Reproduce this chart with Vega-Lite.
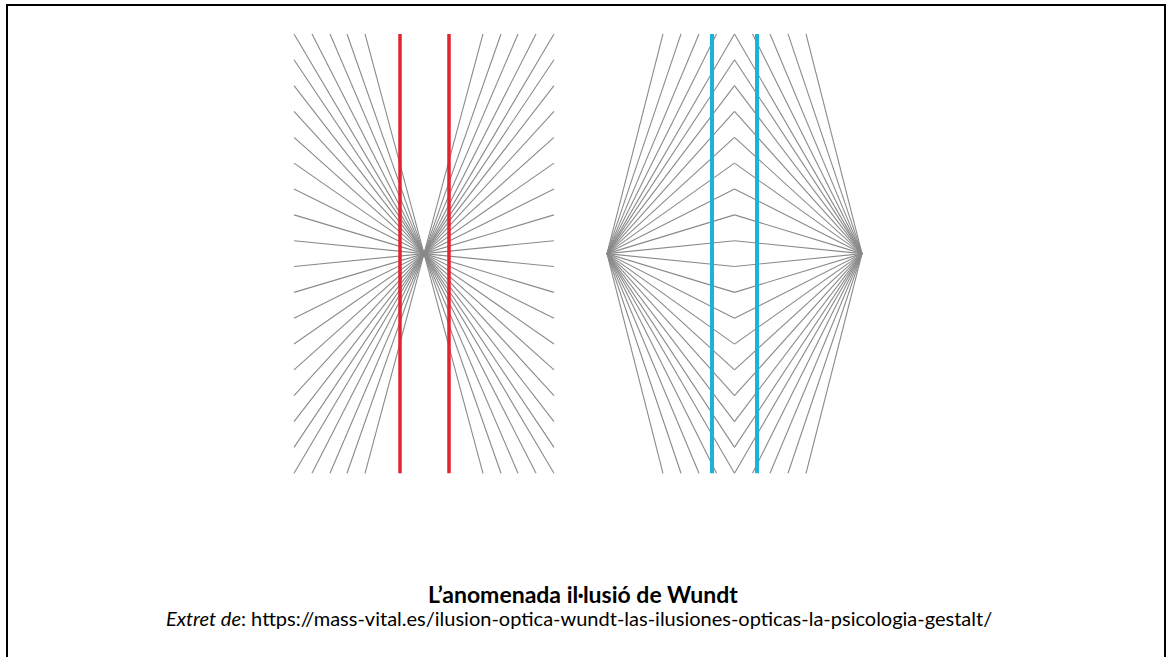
{
  "$schema": "https://vega.github.io/schema/vega-lite/v6.json",
  "width": 1167,
  "height": 658,
  "padding": 0,
  "autosize": {"type": "fit", "contains": "padding"},
  "background": "white",
  "config": {"view": {"stroke": null}},
  "datasets": {
    "segments": [
      {"k": "vora", "x": 7, "y": 4, "x2": 7, "y2": 658},
      {"k": "vora", "x": 6, "y": 5, "x2": 1166, "y2": 5},
      {"k": "vora", "x": 1165, "y": 4, "x2": 1165, "y2": 658},
      {"k": "gris", "x": 294, "y": 34, "x2": 424, "y2": 254},
      {"k": "gris", "x": 294, "y": 59.9, "x2": 424, "y2": 254},
      {"k": "gris", "x": 294, "y": 85.8, "x2": 424, "y2": 254},
      {"k": "gris", "x": 294, "y": 111.6, "x2": 424, "y2": 254},
      {"k": "gris", "x": 294, "y": 137.5, "x2": 424, "y2": 254},
      {"k": "gris", "x": 294, "y": 163.4, "x2": 424, "y2": 254},
      {"k": "gris", "x": 294, "y": 189.3, "x2": 424, "y2": 254},
      {"k": "gris", "x": 294, "y": 215.2, "x2": 424, "y2": 254},
      {"k": "gris", "x": 294, "y": 241.1, "x2": 424, "y2": 254},
      {"k": "gris", "x": 294, "y": 266.9, "x2": 424, "y2": 254},
      {"k": "gris", "x": 294, "y": 292.8, "x2": 424, "y2": 254},
      {"k": "gris", "x": 294, "y": 318.7, "x2": 424, "y2": 254},
      {"k": "gris", "x": 294, "y": 344.6, "x2": 424, "y2": 254},
      {"k": "gris", "x": 294, "y": 370.4, "x2": 424, "y2": 254},
      {"k": "gris", "x": 294, "y": 396.3, "x2": 424, "y2": 254},
      {"k": "gris", "x": 294, "y": 422.2, "x2": 424, "y2": 254},
      {"k": "gris", "x": 294, "y": 448.1, "x2": 424, "y2": 254},
      {"k": "gris", "x": 294, "y": 474, "x2": 424, "y2": 254},
      {"k": "gris", "x": 312, "y": 34, "x2": 424, "y2": 254},
      {"k": "gris", "x": 330, "y": 34, "x2": 424, "y2": 254},
      {"k": "gris", "x": 347, "y": 34, "x2": 424, "y2": 254},
      {"k": "gris", "x": 365, "y": 34, "x2": 424, "y2": 254},
      {"k": "gris", "x": 312, "y": 474, "x2": 424, "y2": 254},
      {"k": "gris", "x": 330, "y": 474, "x2": 424, "y2": 254},
      {"k": "gris", "x": 347, "y": 474, "x2": 424, "y2": 254},
      {"k": "gris", "x": 365, "y": 474, "x2": 424, "y2": 254},
      {"k": "gris", "x": 554, "y": 34, "x2": 424, "y2": 254},
      {"k": "gris", "x": 554, "y": 59.9, "x2": 424, "y2": 254},
      {"k": "gris", "x": 554, "y": 85.8, "x2": 424, "y2": 254},
      {"k": "gris", "x": 554, "y": 111.6, "x2": 424, "y2": 254},
      {"k": "gris", "x": 554, "y": 137.5, "x2": 424, "y2": 254},
      {"k": "gris", "x": 554, "y": 163.4, "x2": 424, "y2": 254},
      {"k": "gris", "x": 554, "y": 189.3, "x2": 424, "y2": 254},
      {"k": "gris", "x": 554, "y": 215.2, "x2": 424, "y2": 254},
      {"k": "gris", "x": 554, "y": 241.1, "x2": 424, "y2": 254},
      {"k": "gris", "x": 554, "y": 266.9, "x2": 424, "y2": 254},
      {"k": "gris", "x": 554, "y": 292.8, "x2": 424, "y2": 254},
      {"k": "gris", "x": 554, "y": 318.7, "x2": 424, "y2": 254},
      {"k": "gris", "x": 554, "y": 344.6, "x2": 424, "y2": 254},
      {"k": "gris", "x": 554, "y": 370.4, "x2": 424, "y2": 254},
      {"k": "gris", "x": 554, "y": 396.3, "x2": 424, "y2": 254},
      {"k": "gris", "x": 554, "y": 422.2, "x2": 424, "y2": 254},
      {"k": "gris", "x": 554, "y": 448.1, "x2": 424, "y2": 254},
      {"k": "gris", "x": 554, "y": 474, "x2": 424, "y2": 254},
      {"k": "gris", "x": 483, "y": 34, "x2": 424, "y2": 254},
      {"k": "gris", "x": 501, "y": 34, "x2": 424, "y2": 254},
      {"k": "gris", "x": 518, "y": 34, "x2": 424, "y2": 254},
      {"k": "gris", "x": 536, "y": 34, "x2": 424, "y2": 254},
      {"k": "gris", "x": 483, "y": 474, "x2": 424, "y2": 254},
      {"k": "gris", "x": 501, "y": 474, "x2": 424, "y2": 254},
      {"k": "gris", "x": 518, "y": 474, "x2": 424, "y2": 254},
      {"k": "gris", "x": 536, "y": 474, "x2": 424, "y2": 254},
      {"k": "gris", "x": 607, "y": 254, "x2": 734.5, "y2": 34},
      {"k": "gris", "x": 607, "y": 254, "x2": 734.5, "y2": 59.9},
      {"k": "gris", "x": 607, "y": 254, "x2": 734.5, "y2": 85.8},
      {"k": "gris", "x": 607, "y": 254, "x2": 734.5, "y2": 111.6},
      {"k": "gris", "x": 607, "y": 254, "x2": 734.5, "y2": 137.5},
      {"k": "gris", "x": 607, "y": 254, "x2": 734.5, "y2": 163.4},
      {"k": "gris", "x": 607, "y": 254, "x2": 734.5, "y2": 189.3},
      {"k": "gris", "x": 607, "y": 254, "x2": 734.5, "y2": 215.2},
      {"k": "gris", "x": 607, "y": 254, "x2": 734.5, "y2": 241.1},
      {"k": "gris", "x": 607, "y": 254, "x2": 734.5, "y2": 266.9},
      {"k": "gris", "x": 607, "y": 254, "x2": 734.5, "y2": 292.8},
      {"k": "gris", "x": 607, "y": 254, "x2": 734.5, "y2": 318.7},
      {"k": "gris", "x": 607, "y": 254, "x2": 734.5, "y2": 344.6},
      {"k": "gris", "x": 607, "y": 254, "x2": 734.5, "y2": 370.4},
      {"k": "gris", "x": 607, "y": 254, "x2": 734.5, "y2": 396.3},
      {"k": "gris", "x": 607, "y": 254, "x2": 734.5, "y2": 422.2},
      {"k": "gris", "x": 607, "y": 254, "x2": 734.5, "y2": 448.1},
      {"k": "gris", "x": 607, "y": 254, "x2": 734.5, "y2": 474},
      {"k": "gris", "x": 607, "y": 254, "x2": 663, "y2": 34},
      {"k": "gris", "x": 607, "y": 254, "x2": 681, "y2": 34},
      {"k": "gris", "x": 607, "y": 254, "x2": 699, "y2": 34},
      {"k": "gris", "x": 607, "y": 254, "x2": 716.5, "y2": 34},
      {"k": "gris", "x": 607, "y": 254, "x2": 663, "y2": 474},
      {"k": "gris", "x": 607, "y": 254, "x2": 681, "y2": 474},
      {"k": "gris", "x": 607, "y": 254, "x2": 699, "y2": 474},
      {"k": "gris", "x": 607, "y": 254, "x2": 716.5, "y2": 474},
      {"k": "gris", "x": 862, "y": 254, "x2": 734.5, "y2": 34},
      {"k": "gris", "x": 862, "y": 254, "x2": 734.5, "y2": 59.9},
      {"k": "gris", "x": 862, "y": 254, "x2": 734.5, "y2": 85.8},
      {"k": "gris", "x": 862, "y": 254, "x2": 734.5, "y2": 111.6},
      {"k": "gris", "x": 862, "y": 254, "x2": 734.5, "y2": 137.5},
      {"k": "gris", "x": 862, "y": 254, "x2": 734.5, "y2": 163.4},
      {"k": "gris", "x": 862, "y": 254, "x2": 734.5, "y2": 189.3},
      {"k": "gris", "x": 862, "y": 254, "x2": 734.5, "y2": 215.2},
      {"k": "gris", "x": 862, "y": 254, "x2": 734.5, "y2": 241.1},
      {"k": "gris", "x": 862, "y": 254, "x2": 734.5, "y2": 266.9},
      {"k": "gris", "x": 862, "y": 254, "x2": 734.5, "y2": 292.8},
      {"k": "gris", "x": 862, "y": 254, "x2": 734.5, "y2": 318.7},
      {"k": "gris", "x": 862, "y": 254, "x2": 734.5, "y2": 344.6},
      {"k": "gris", "x": 862, "y": 254, "x2": 734.5, "y2": 370.4},
      {"k": "gris", "x": 862, "y": 254, "x2": 734.5, "y2": 396.3},
      {"k": "gris", "x": 862, "y": 254, "x2": 734.5, "y2": 422.2},
      {"k": "gris", "x": 862, "y": 254, "x2": 734.5, "y2": 448.1},
      {"k": "gris", "x": 862, "y": 254, "x2": 734.5, "y2": 474},
      {"k": "gris", "x": 862, "y": 254, "x2": 752.5, "y2": 34},
      {"k": "gris", "x": 862, "y": 254, "x2": 770, "y2": 34},
      {"k": "gris", "x": 862, "y": 254, "x2": 788, "y2": 34},
      {"k": "gris", "x": 862, "y": 254, "x2": 806, "y2": 34},
      {"k": "gris", "x": 862, "y": 254, "x2": 752.5, "y2": 474},
      {"k": "gris", "x": 862, "y": 254, "x2": 770, "y2": 474},
      {"k": "gris", "x": 862, "y": 254, "x2": 788, "y2": 474},
      {"k": "gris", "x": 862, "y": 254, "x2": 806, "y2": 474},
      {"k": "vermell", "x": 400, "y": 34, "x2": 400, "y2": 474},
      {"k": "vermell", "x": 449, "y": 34, "x2": 449, "y2": 474},
      {"k": "blau", "x": 712, "y": 34, "x2": 712, "y2": 474},
      {"k": "blau", "x": 757, "y": 34, "x2": 757, "y2": 474}
    ],
    "labels": [
      {"t": "L’anomenada il·lusió de Wundt"}
    ]
  },
  "layer": [
    {
      "data": {"name": "segments"},
      "transform": [{"filter": "datum.k === 'vora'"}],
      "mark": {"type": "rule", "strokeCap": "butt", "color": "#000000", "strokeWidth": 2},
      "encoding": {
        "x": {"field": "x", "type": "quantitative", "scale": {"domain": [0, 1167], "nice": false, "zero": false}, "axis": null},
        "y": {"field": "y", "type": "quantitative", "scale": {"domain": [0, 658], "reverse": true, "nice": false, "zero": false}, "axis": null},
        "x2": {"field": "x2"},
        "y2": {"field": "y2"}
      }
    },
    {
      "data": {"name": "segments"},
      "transform": [{"filter": "datum.k === 'gris'"}],
      "mark": {"type": "rule", "strokeCap": "butt", "color": "#8a8a8a", "strokeWidth": 1.1},
      "encoding": {
        "x": {"field": "x", "type": "quantitative", "scale": {"domain": [0, 1167], "nice": false, "zero": false}, "axis": null},
        "y": {"field": "y", "type": "quantitative", "scale": {"domain": [0, 658], "reverse": true, "nice": false, "zero": false}, "axis": null},
        "x2": {"field": "x2"},
        "y2": {"field": "y2"}
      }
    },
    {
      "data": {"name": "segments"},
      "transform": [{"filter": "datum.k === 'vermell'"}],
      "mark": {"type": "rule", "strokeCap": "butt", "color": "#e0252f", "strokeWidth": 3.5},
      "encoding": {
        "x": {"field": "x", "type": "quantitative", "scale": {"domain": [0, 1167], "nice": false, "zero": false}, "axis": null},
        "y": {"field": "y", "type": "quantitative", "scale": {"domain": [0, 658], "reverse": true, "nice": false, "zero": false}, "axis": null},
        "x2": {"field": "x2"},
        "y2": {"field": "y2"}
      }
    },
    {
      "data": {"name": "segments"},
      "transform": [{"filter": "datum.k === 'blau'"}],
      "mark": {"type": "rule", "strokeCap": "butt", "color": "#1cb3db", "strokeWidth": 4},
      "encoding": {
        "x": {"field": "x", "type": "quantitative", "scale": {"domain": [0, 1167], "nice": false, "zero": false}, "axis": null},
        "y": {"field": "y", "type": "quantitative", "scale": {"domain": [0, 658], "reverse": true, "nice": false, "zero": false}, "axis": null},
        "x2": {"field": "x2"},
        "y2": {"field": "y2"}
      }
    },
    {
      "data": {"name": "labels"},
      "mark": {"type": "text", "font": "Lato", "fontSize": 23, "fontWeight": "bold", "align": "center", "baseline": "middle", "color": "black"},
      "encoding": {
        "x": {"datum": 583, "type": "quantitative", "scale": {"domain": [0, 1167], "nice": false, "zero": false}},
        "y": {"datum": 597, "type": "quantitative", "scale": {"domain": [0, 658], "reverse": true, "nice": false, "zero": false}},
        "text": {"field": "t"}
      }
    },
    {
      "data": {"name": "labels"},
      "mark": {"type": "text", "font": "Lato", "fontSize": 20, "fontStyle": "italic", "align": "right", "baseline": "middle", "color": "black"},
      "encoding": {
        "x": {"datum": 241, "type": "quantitative", "scale": {"domain": [0, 1167], "nice": false, "zero": false}},
        "y": {"datum": 621, "type": "quantitative", "scale": {"domain": [0, 658], "reverse": true, "nice": false, "zero": false}},
        "text": {"value": "Extret de"}
      }
    },
    {
      "data": {"name": "labels"},
      "mark": {"type": "text", "font": "Lato", "fontSize": 20, "align": "left", "baseline": "middle", "color": "black"},
      "encoding": {
        "x": {"datum": 241, "type": "quantitative", "scale": {"domain": [0, 1167], "nice": false, "zero": false}},
        "y": {"datum": 621, "type": "quantitative", "scale": {"domain": [0, 658], "reverse": true, "nice": false, "zero": false}},
        "text": {"value": ": https://mass-vital.es/ilusion-optica-wundt-las-ilusiones-opticas-la-psicologia-gestalt/"}
      }
    }
  ]
}
